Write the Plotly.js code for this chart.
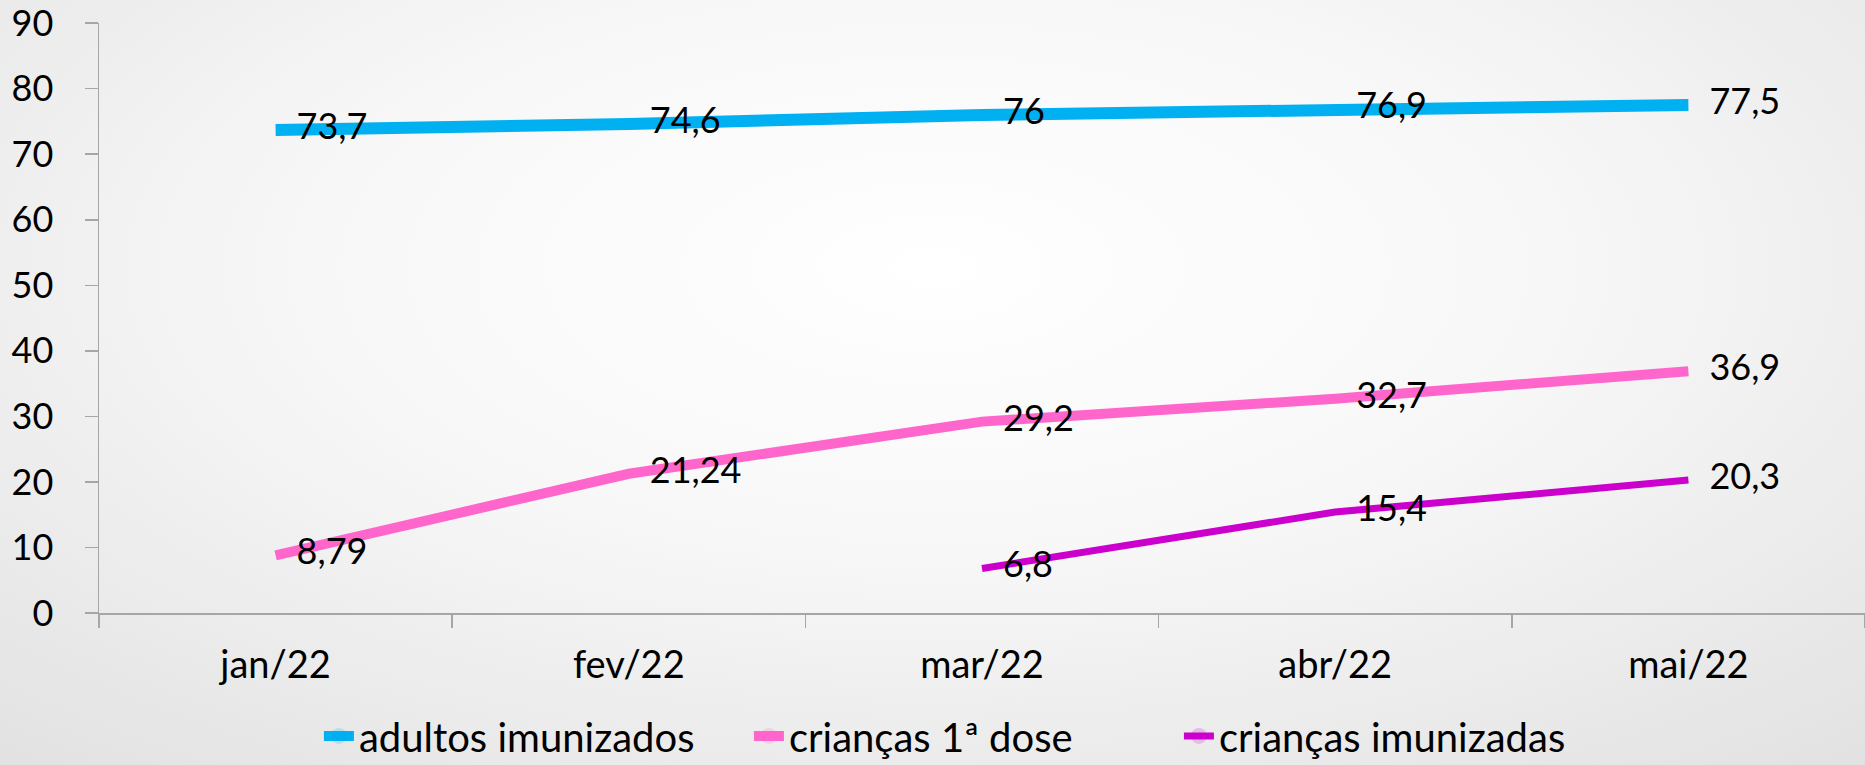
<!DOCTYPE html>
<html>
<head>
<meta charset="utf-8">
<script src="https://cdn.plot.ly/plotly-3.0.1.min.js"></script>
<style>
    html, body { margin: 0; padding: 0; }
    body {
        width: 1865px;
        height: 765px;
        background: radial-gradient(ellipse 75% 85% at 50% 35%, #ffffff 0%, #f7f7f7 45%, #e2e2e2 100%);
        overflow: hidden;
    }
    #chart { width: 1865px; height: 765px; }
</style>
</head>
<body>
<div id="chart"></div>
<script>
const months = ["jan/22", "fev/22", "mar/22", "abr/22", "mai/22"];
const adultos = [73.7, 74.6, 76, 76.9, 77.5];
const criancas1 = [8.79, 21.24, 29.2, 32.7, 36.9];
const criancasImun = [null, null, 6.8, 15.4, 20.3];
const yTicks = [0, 10, 20, 30, 40, 50, 60, 70, 80, 90];

const font = "Lato, 'Open Sans', sans-serif";

// values are shown with a decimal comma
function labels(values) {
    return values.map(v => v === null ? "" : String(v).replace(".", ","));
}

function makeTrace(name, values, color, width) {
    return {
        x: months,
        y: values,
        name: name,
        type: "scatter",
        mode: "lines+markers+text",
        text: labels(values),
        textposition: "middle right",
        textfont: {family: font, size: 36, color: "#000000"},
        cliponaxis: false,
        connectgaps: false,
        line: {color: color, width: width, shape: "linear"},
        marker: {size: 32, opacity: 0, color: color},
        hoverinfo: "none"
    };
}

const data = [
    makeTrace("adultos imunizados", adultos, "#00B0F0", 12),
    makeTrace("crianças 1ª dose", criancas1, "#FF66CC", 10),
    makeTrace("crianças imunizadas", criancasImun, "#CC00CC", 7)
];

const layout = {
    width: 1865,
    height: 765,
    margin: {l: 99, r: 0, t: 23, b: 152, autoexpand: false},
    paper_bgcolor: "rgba(0,0,0,0)",
    plot_bgcolor: "rgba(0,0,0,0)",
    font: {family: font, size: 36, color: "#000000"},
    showlegend: true,
    legend: {
        orientation: "h",
        x: 0.171,
        xref: "container",
        xanchor: "left",
        y: 0.038,
        yref: "container",
        yanchor: "middle",
        font: {family: font, size: 40, color: "#000000"},
        bgcolor: "rgba(0,0,0,0)",
        entrywidth: 385,
        entrywidthmode: "pixels",
        tracegroupgap: 0
    },
    xaxis: {
        type: "category",
        categoryorder: "array",
        categoryarray: months,
        range: [-0.5, 4.5],
        tickson: "boundaries",
        ticks: "outside",
        ticklen: 13,
        tickwidth: 1.5,
        tickcolor: "#a6a6a6",
        showline: true,
        linecolor: "#a6a6a6",
        linewidth: 1.5,
        showgrid: false,
        zeroline: false,
        ticklabelstandoff: 18,
        tickfont: {family: font, size: 38, color: "#000000"}
    },
    yaxis: {
        range: [0, 90.02],
        tickmode: "array",
        tickvals: yTicks,
        ticktext: yTicks.map(String),
        ticks: "outside",
        ticklen: 13,
        tickwidth: 1.5,
        tickcolor: "#a6a6a6",
        showline: true,
        linecolor: "#a6a6a6",
        linewidth: 1.5,
        showgrid: false,
        zeroline: false,
        ticklabelstandoff: 24,
        ticklabeloverflow: "allow",
        tickfont: {family: font, size: 36, color: "#000000"}
    }
};

Plotly.newPlot("chart", data, layout, {staticPlot: true, displayModeBar: false});
</script>
</body>
</html>
